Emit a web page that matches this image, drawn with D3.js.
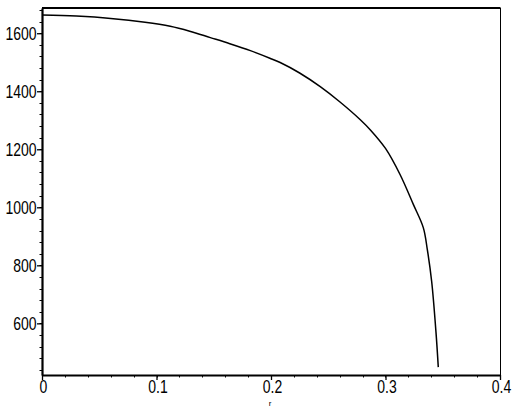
<!DOCTYPE html>
<html>
<head>
<meta charset="utf-8">
<script src="https://cdn.jsdelivr.net/npm/d3@7"></script>
<style>
  body { margin: 0; background: #fff; }
  svg { display: block; }
  .tick-label { font-family: "Liberation Sans", Arial, sans-serif; font-size: 17.5px; fill: #000; }
</style>
</head>
<body>
<div id="chart"></div>
<script>
// Data
const rValues = [0, 0.03, 0.06, 0.09, 0.112, 0.129, 0.147, 0.164, 0.182, 0.199, 0.208, 0.225, 0.243,
  0.260, 0.278, 0.287, 0.300, 0.3127, 0.3243, 0.333, 0.3365, 0.3403, 0.3441, 0.3461];
const vValues = [1663, 1659, 1651, 1638, 1624, 1607, 1585, 1564, 1540, 1514, 1499, 1463, 1416,
  1364, 1302, 1266, 1203, 1113, 1010, 930, 855, 745, 569, 449];
const xTicks = [0, 0.1, 0.2, 0.3, 0.4];
const yTicks = [600, 800, 1000, 1200, 1400, 1600];
const xLabel = "r";

const width = 515, height = 412;
const mLeft = 42, mRight = 500, mTop = 8, mBottom = 375;

const data = rValues.map((r, i) => ({ r: r, v: vValues[i] }));

const x = d3.scaleLinear().domain([0, 0.4]).range([mLeft, mRight]);
const y = d3.scaleLinear().domain([422, 1687]).range([mBottom, mTop]);

const svg = d3.select("#chart").append("svg")
  .attr("width", width)
  .attr("height", height);

// frame: top thick, right thin
svg.append("line").attr("x1", mLeft).attr("x2", mRight + 0.5).attr("y1", mTop).attr("y2", mTop)
  .attr("stroke", "#000").attr("stroke-width", 2);
svg.append("line").attr("x1", mRight + 0.5).attr("x2", mRight + 0.5).attr("y1", mTop).attr("y2", mBottom)
  .attr("stroke", "#000").attr("stroke-width", 1);

// minor ticks
const xMinor = d3.range(0, 0.4001, 0.02);
const yMinor = d3.range(440, 1687, 40);

svg.append("g").selectAll("line").data(xMinor).join("line")
  .attr("x1", d => Math.round(x(d)) + 0.5).attr("x2", d => Math.round(x(d)) + 0.5)
  .attr("y1", mBottom).attr("y2", mBottom + 2.5)
  .attr("stroke", "#000").attr("stroke-width", 1);

svg.append("g").selectAll("line").data(yMinor).join("line")
  .attr("x1", mLeft - 2.5).attr("x2", mLeft)
  .attr("y1", d => Math.round(y(d)) + 0.5).attr("y2", d => Math.round(y(d)) + 0.5)
  .attr("stroke", "#000").attr("stroke-width", 1);

// axes
const xAxis = d3.axisBottom(x).tickValues(xTicks).tickSize(5).tickSizeOuter(0)
  .tickFormat(d => d === 0 ? "0" : d3.format(".1f")(d));
const yAxis = d3.axisLeft(y).tickValues(yTicks).tickSize(5).tickSizeOuter(0)
  .tickFormat(d3.format("d"));

const gx = svg.append("g").attr("transform", `translate(0,${mBottom})`).call(xAxis);
const gy = svg.append("g").attr("transform", `translate(${mLeft},0)`).call(yAxis);

[gx, gy].forEach(g => {
  g.attr("font-size", null).attr("font-family", null);
  g.select(".domain").attr("stroke-width", 2.2);
  g.selectAll(".tick line").attr("stroke-width", 1.3);
  g.selectAll(".tick text").attr("class", "tick-label");
});
// narrow digits, like the original bitmap font
gx.selectAll(".tick text")
  .attr("y", 0).attr("dy", 0)
  .attr("transform", "translate(1,18) scale(0.8,1)");
gy.selectAll(".tick text")
  .attr("x", 0).attr("dy", "0.358em")
  .attr("transform", "translate(-5.5,0) scale(0.8,1)");

svg.append("text")
  .attr("x", 270)
  .attr("y", 406)
  .attr("text-anchor", "middle")
  .style("font", "8px 'Liberation Sans', sans-serif")
  .text(xLabel);

// curve
const line = d3.line()
  .x(d => x(d.r))
  .y(d => y(d.v))
  .curve(d3.curveCatmullRom.alpha(0.5));

svg.append("path")
  .datum(data)
  .attr("fill", "none")
  .attr("stroke", "#000")
  .attr("stroke-width", 1.5)
  .attr("d", line);
</script>
</body>
</html>
